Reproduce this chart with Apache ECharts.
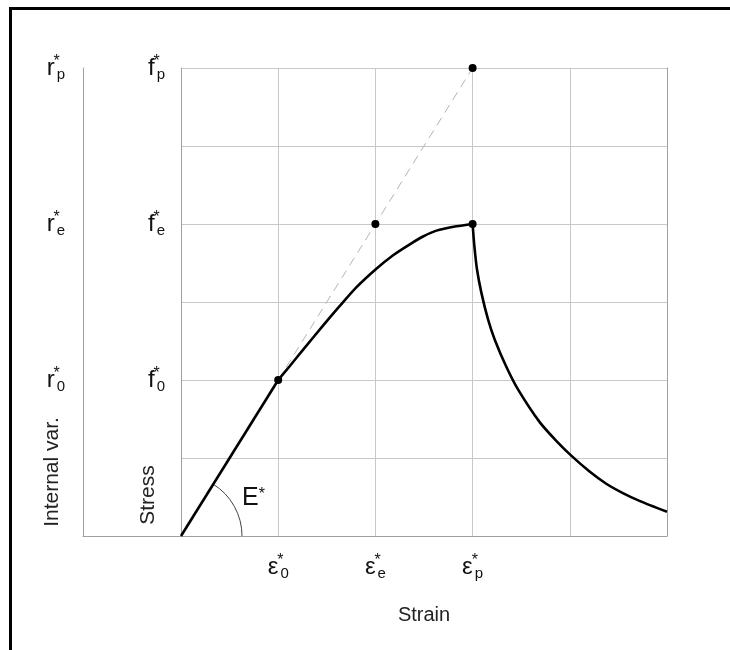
<!DOCTYPE html>
<html><head><meta charset="utf-8">
<script src="https://cdn.jsdelivr.net/npm/echarts@6/dist/echarts.min.js"></script>
<style>html,body{margin:0;padding:0;background:#fff}#c{width:730px;height:650px}</style>
</head><body><div id="c"></div>
<script>
// ---- data ----
const xTickValues = [1, 2, 3];
const xTickSubs = ['0', 'e', 'p'];
const yTickValues = [2, 4, 6];
const yTickSubs = ['0', 'e', 'p'];
const strainSymbol = 'ε';
const stressSymbol = 'f';
const internalSymbol = 'r';
const xName = 'Strain';
const yName = 'Stress';
const y2Name = 'Internal var.';
const modulusLabel = 'E';

const elasticStrain = [0, 1];
const elasticStress = [0, 2];
const hardeningStrain = [1, 1.12, 1.257, 1.463, 1.634, 1.806, 2.004, 2.182, 2.354, 2.49, 2.628, 2.833, 3];
const hardeningStress = [2, 2.18, 2.39, 2.7, 2.95, 3.19, 3.42, 3.6, 3.74, 3.84, 3.915, 3.97, 4];
const softeningStrain = [3, 3.018, 3.045, 3.09, 3.158, 3.227, 3.347, 3.467, 3.69, 3.861, 4.015, 4.2, 4.375, 4.546, 4.717, 5];
const softeningStress = [4, 3.72, 3.42, 3.12, 2.78, 2.52, 2.17, 1.88, 1.46, 1.22, 1.03, 0.83, 0.67, 0.55, 0.45, 0.31];
const secantStrain = [1, 3];
const secantStress = [2, 6];
const markerStrain = [1, 2, 3, 3];
const markerStress = [2, 4, 4, 6];

const zip = (a, b) => a.map((v, i) => [v, b[i]]);
const FONT = 'Liberation Sans, Arial, sans-serif';
const tickRich = {
  m: {fontSize: 24, fontFamily: FONT, color: '#111', lineHeight: 28, verticalAlign: 'middle'},
  s: {fontSize: 16, fontFamily: FONT, color: '#111', lineHeight: 14, verticalAlign: 'top', width: 0, align: 'left', padding: [0, 0, 0, 2]},
  b: {fontSize: 15, fontFamily: FONT, color: '#111', lineHeight: 14, verticalAlign: 'bottom'}
};
const fmt = (vals, subs, sym) => v => {
  const i = vals.indexOf(v);
  return i < 0 ? '' : '{m|' + sym + '}{s|*}{b|' + subs[i] + '}';
};

const gridCol = '#c8c8c8', axisCol = '#a0a0a0';
const chart = echarts.init(document.getElementById('c'), null, {renderer: 'canvas'});
chart.setOption({
  animation: false,
  backgroundColor: '#fff',
  grid: [
    {left: 181, right: 63, top: 68, bottom: 114, containLabel: false, outerBoundsMode: 'none'},
    {left: 83, width: 98, top: 68, bottom: 114, containLabel: false, outerBoundsMode: 'none'}
  ],
  xAxis: [
    {type: 'value', gridIndex: 0, min: 0, max: 5, interval: 1,
     axisLine: {show: true, lineStyle: {color: axisCol, width: 1}}, axisTick: {show: false},
     splitLine: {show: true, lineStyle: {color: gridCol, width: 1}},
     axisLabel: {margin: 17, formatter: fmt(xTickValues, xTickSubs, strainSymbol), rich: tickRich},
     name: xName, nameLocation: 'middle', nameGap: 69,
     nameTextStyle: {fontSize: 20, fontFamily: FONT, color: '#222'}},
    {type: 'value', gridIndex: 1, min: 0, max: 1,
     axisLine: {show: true, lineStyle: {color: axisCol, width: 1}}, axisTick: {show: false},
     splitLine: {show: false}, axisLabel: {show: false}}
  ],
  yAxis: [
    {type: 'value', gridIndex: 0, min: 0, max: 6, interval: 1, position: 'left',
     axisLine: {show: true, lineStyle: {color: axisCol, width: 1}}, axisTick: {show: false},
     splitLine: {show: true, lineStyle: {color: gridCol, width: 1}},
     axisLabel: {margin: 16, formatter: fmt(yTickValues, yTickSubs, stressSymbol), rich: tickRich}},
    {type: 'value', gridIndex: 0, min: 0, max: 6, interval: 1, position: 'right',
     axisLine: {show: true, lineStyle: {color: axisCol, width: 1}}, axisTick: {show: false},
     splitLine: {show: false}, axisLabel: {show: false}},
    {type: 'value', gridIndex: 1, min: 0, max: 6, interval: 1, position: 'left',
     axisLine: {show: true, lineStyle: {color: axisCol, width: 1}}, axisTick: {show: false},
     splitLine: {show: false},
     axisLabel: {margin: 18, formatter: fmt(yTickValues, yTickSubs, internalSymbol), rich: tickRich}}
  ],
  series: [
    {type: 'line', xAxisIndex: 0, yAxisIndex: 0, data: zip(secantStrain, secantStress), symbol: 'none',
     lineStyle: {color: '#b4b4b4', width: 1, type: [9, 6]}, z: 2, silent: true},
    {type: 'line', xAxisIndex: 0, yAxisIndex: 0, data: zip(elasticStrain, elasticStress), symbol: 'none',
     lineStyle: {color: '#000', width: 2.6}, z: 3},
    {type: 'line', xAxisIndex: 0, yAxisIndex: 0, data: zip(hardeningStrain, hardeningStress), symbol: 'none',
     smooth: 0.25, lineStyle: {color: '#000', width: 2.6}, z: 3},
    {type: 'line', xAxisIndex: 0, yAxisIndex: 0, data: zip(softeningStrain, softeningStress), symbol: 'none',
     smooth: 0.25, lineStyle: {color: '#000', width: 2.6}, z: 3},
    {type: 'scatter', xAxisIndex: 0, yAxisIndex: 0, data: zip(markerStrain, markerStress),
     symbol: 'circle', symbolSize: 8, itemStyle: {color: '#000', opacity: 1}, z: 4}
  ]
});

const o = chart.convertToPixel({gridIndex: 0}, [elasticStrain[0], elasticStress[0]]);
const p = chart.convertToPixel({gridIndex: 0}, [elasticStrain[1], elasticStress[1]]);
const ang = Math.atan2(p[1] - o[1], p[0] - o[0]);
const g1 = chart.convertToPixel({gridIndex: 1}, [0, 0]);
chart.setOption({
  graphic: [
    {type: 'rect', shape: {x: 10.5, y: 8.5, width: 900, height: 900},
     style: {fill: 'none', stroke: '#000', lineWidth: 3}, silent: true},
    {type: 'arc', shape: {cx: o[0], cy: o[1], r: 61, startAngle: ang, endAngle: 0, clockwise: true},
     style: {fill: 'none', stroke: '#444', lineWidth: 1}, silent: true},
    {type: 'text', x: o[0] + 61, y: o[1] - 49,
     style: {text: '{e|' + modulusLabel + '}{s|*}', rich: {
       e: {fontSize: 25, fontFamily: FONT, fill: '#111', verticalAlign: 'bottom', lineHeight: 24},
       s: {fontSize: 16, fontFamily: FONT, fill: '#111', verticalAlign: 'top', lineHeight: 14}}}},
    {type: 'text', x: o[0] - 33, y: o[1] - 41, rotation: Math.PI / 2,
     style: {text: yName, fontSize: 21, fontFamily: FONT, fill: '#222', align: 'center', verticalAlign: 'middle'}},
    {type: 'text', x: g1[0] - 31, y: g1[1] - 64, rotation: Math.PI / 2,
     style: {text: y2Name, fontSize: 21, fontFamily: FONT, fill: '#222', align: 'center', verticalAlign: 'middle'}}
  ]
});
</script></body></html>
